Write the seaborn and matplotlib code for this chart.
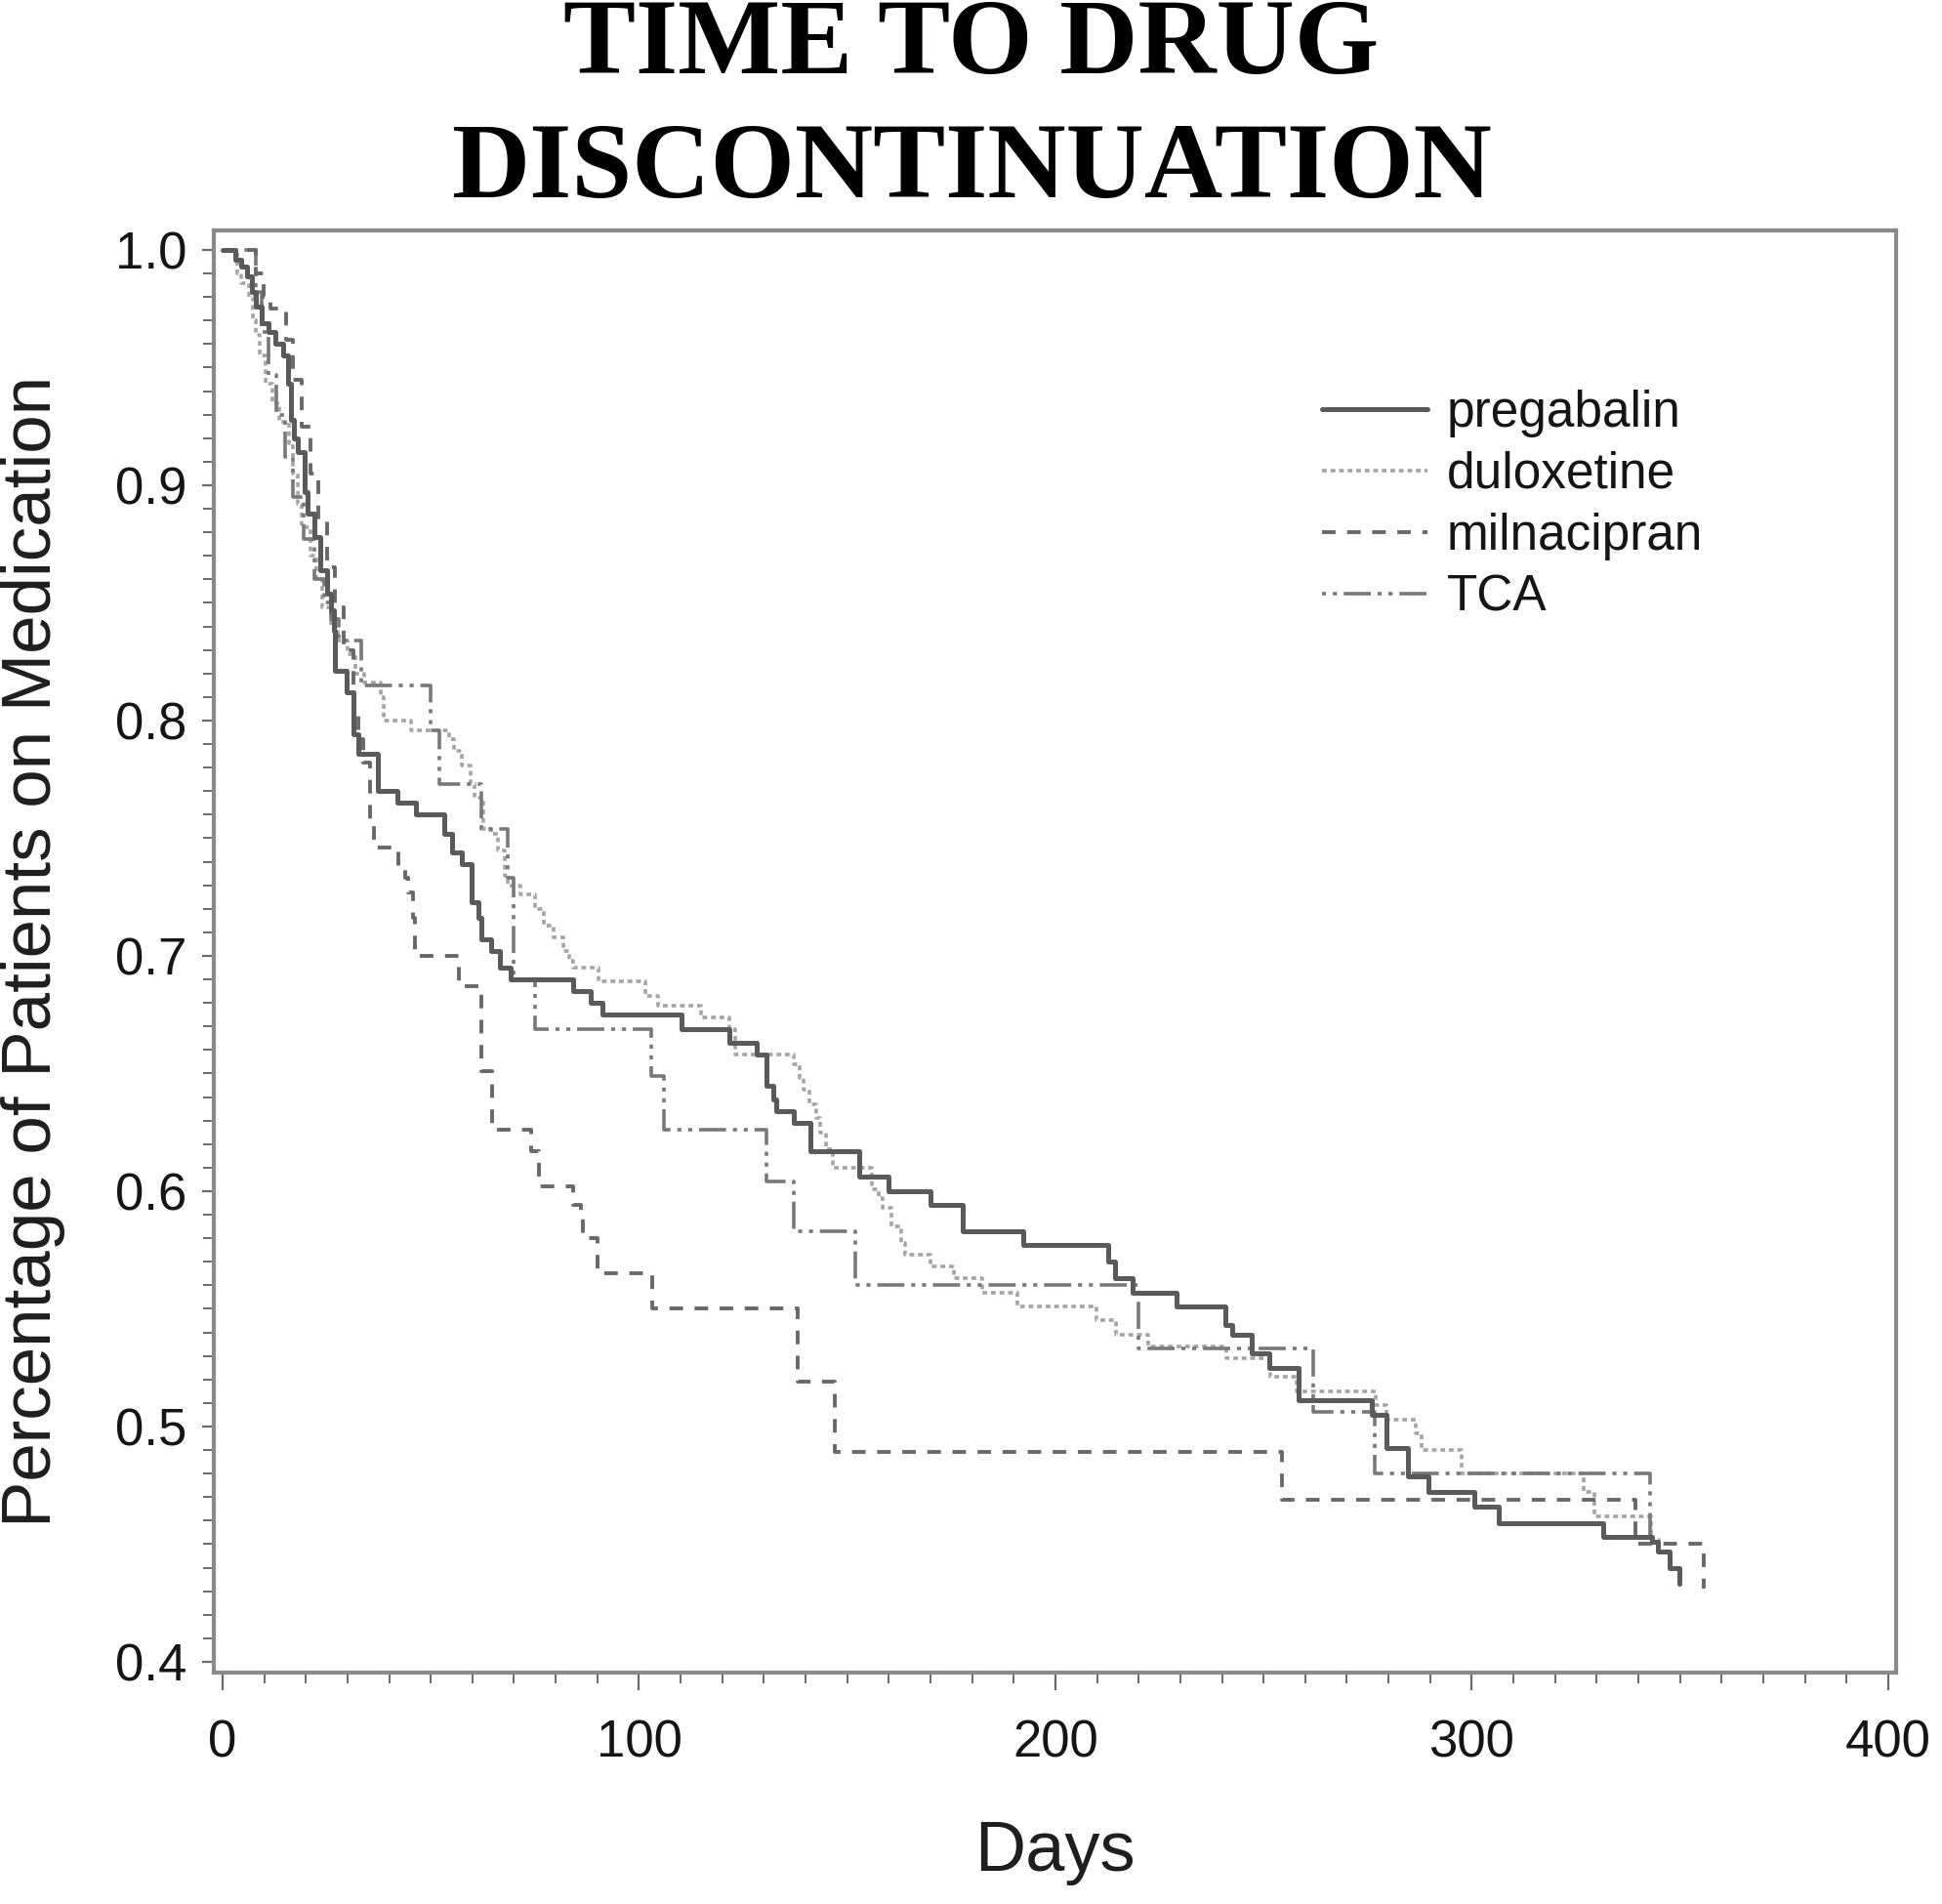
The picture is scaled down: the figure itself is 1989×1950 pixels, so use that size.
import numpy as np
import pandas as pd
import matplotlib
matplotlib.use("Agg")
import matplotlib.pyplot as plt
import seaborn as sns
from matplotlib.ticker import MultipleLocator, FormatStrFormatter

# ---------------- data (Kaplan-Meier style step values) ----------------
drug_names = ["pregabalin", "duloxetine", "milnacipran", "TCA"]

pregabalin_days = [0, 3.0, 4.5, 5.9, 7.0, 8.0, 9.4, 11.0, 12.7, 14.5, 15.7, 16.4, 17.2, 18.0, 19.7,
                   20.4, 22.0, 23.4, 25.0, 26.0, 26.7, 27.0, 29.8, 31.4, 32.6, 37.3, 42.0, 46.4,
                   53.3, 55.2, 57.5, 59.9, 61.4, 62.2, 64.6, 66.5, 69.2, 84.2, 88.4, 91.2, 110.2,
                   121.7, 128.3, 130.6, 132.2, 133.0, 137.2, 141.1, 152.9, 159.9, 170.0, 177.8,
                   192.3, 212.7, 214.3, 218.5, 229.0, 240.8, 242.4, 247.1, 251.3, 258.4, 276.0,
                   279.5, 284.6, 289.6, 300.6, 306.4, 331.5, 343.3, 344.7, 347.5, 349.8]
pregabalin_prop = [1.0, 0.996, 0.993, 0.989, 0.982, 0.976, 0.969, 0.965, 0.960, 0.955, 0.943, 0.928,
                   0.920, 0.914, 0.897, 0.888, 0.878, 0.864, 0.854, 0.847, 0.838, 0.821, 0.812, 0.794,
                   0.786, 0.770, 0.765, 0.760, 0.752, 0.744, 0.739, 0.723, 0.716, 0.707, 0.702, 0.695,
                   0.690, 0.685, 0.680, 0.675, 0.669, 0.663, 0.658, 0.645, 0.639, 0.634, 0.629, 0.617,
                   0.606, 0.600, 0.594, 0.583, 0.577, 0.570, 0.563, 0.557, 0.551, 0.543, 0.539, 0.531,
                   0.525, 0.511, 0.505, 0.491, 0.479, 0.472, 0.466, 0.459, 0.453, 0.451, 0.447, 0.440,
                   0.433]

duloxetine_days = [0, 3.5, 4.5, 6.3, 7.2, 8.0, 9.0, 10.3, 12.0, 13.5, 16.0, 17.0, 18.0, 19.0, 21.0,
                   22.5, 24.0, 26.0, 27.7, 30.0, 32.0, 34.0, 38.1, 38.7, 45.3, 54.4, 55.6, 57.5, 59.5,
                   60.5, 62.6, 64.5, 66.1, 67.7, 68.5, 71.5, 75.0, 77.1, 79.5, 81.8, 83.3, 84.2, 90.3,
                   101.5, 104.5, 115.0, 121.8, 123.0, 137.2, 138.5, 139.6, 141.0, 142.5, 143.6, 145.0,
                   146.5, 156.0, 157.5, 158.5, 160.7, 163.0, 164.0, 170.0, 175.6, 182.5, 190.9, 209.9,
                   214.5, 222.4, 241.0, 251.5, 258.0, 277.0, 279.5, 286.5, 288.0, 297.5, 326.8, 329.5,
                   343.0, 345.0]
duloxetine_prop = [1.0, 0.990, 0.986, 0.980, 0.970, 0.964, 0.955, 0.943, 0.935, 0.927, 0.918, 0.905,
                   0.892, 0.882, 0.870, 0.860, 0.848, 0.840, 0.834, 0.828, 0.820, 0.816, 0.810, 0.800,
                   0.796, 0.792, 0.787, 0.781, 0.773, 0.767, 0.754, 0.752, 0.745, 0.734, 0.730, 0.726,
                   0.720, 0.713, 0.708, 0.702, 0.698, 0.695, 0.689, 0.683, 0.679, 0.674, 0.669, 0.658,
                   0.654, 0.648, 0.643, 0.637, 0.631, 0.625, 0.618, 0.610, 0.601, 0.597, 0.593, 0.585,
                   0.578, 0.573, 0.568, 0.563, 0.557, 0.551, 0.545, 0.539, 0.534, 0.529, 0.521, 0.515,
                   0.509, 0.503, 0.497, 0.490, 0.480, 0.472, 0.462, 0.452, 0.445]

milnacipran_days = [0, 8.0, 9.9, 11.5, 15.2, 17.0, 19.0, 21.0, 23.0, 25.0, 27.0, 29.0, 31.4, 32.6,
                    33.8, 35.3, 36.4, 42.2, 43.8, 44.5, 45.7, 46.2, 56.8, 62.1, 64.7, 74.0, 76.0,
                    84.2, 86.0, 86.5, 90.0, 103.2, 138.0, 147.0, 254.5, 339.3, 355.7]
milnacipran_prop = [1.0, 0.990, 0.980, 0.975, 0.962, 0.945, 0.925, 0.905, 0.885, 0.865, 0.848, 0.830,
                    0.805, 0.792, 0.782, 0.758, 0.746, 0.738, 0.733, 0.727, 0.716, 0.700, 0.687, 0.651,
                    0.626, 0.617, 0.602, 0.594, 0.590, 0.580, 0.565, 0.550, 0.519, 0.489, 0.469, 0.450,
                    0.431]

tca_days = [0, 8.0, 9.5, 11.0, 13.0, 15.0, 17.0, 19.5, 22.0, 24.5, 26.0, 28.0, 33.3, 50.0, 52.0,
            62.1, 68.5, 70.0, 75.0, 103.0, 106.0, 130.6, 137.2, 152.0, 220.0, 261.9, 276.7, 342.8]
tca_prop = [1.0, 0.982, 0.965, 0.947, 0.930, 0.912, 0.895, 0.877, 0.860, 0.850, 0.843, 0.834, 0.815,
            0.796, 0.773, 0.754, 0.733, 0.690, 0.669, 0.649, 0.626, 0.604, 0.583, 0.560, 0.533,
            0.506, 0.480, 0.453]

x_ticks = [0, 100, 200, 300, 400]
y_ticks = [0.4, 0.5, 0.6, 0.7, 0.8, 0.9, 1.0]

title_lines = ["TIME TO DRUG", "DISCONTINUATION"]
x_label = "Days"
y_label = "Percentage of Patients on Medication"

# ---------------- styling ----------------
sns.set_style("ticks")
plt.rcParams["font.family"] = ["Liberation Sans", "DejaVu Sans"]
plt.rcParams["lines.scale_dashes"] = False

W, H = 1990, 1950
fig = plt.figure(figsize=(W / 100, H / 100), dpi=100)
ax_l, ax_r, ax_t, ax_b = 219, 1942, 236, 1713
ax = fig.add_axes([ax_l / W, 1 - ax_b / H, (ax_r - ax_l) / W, (ax_b - ax_t) / H])

series = {
    "pregabalin": (pregabalin_days, pregabalin_prop),
    "duloxetine": (duloxetine_days, duloxetine_prop),
    "milnacipran": (milnacipran_days, milnacipran_prop),
    "TCA": (tca_days, tca_prop),
}
styles = {
    "pregabalin": dict(color="#5a5a5a", linewidth=3.6, linestyle="-"),
    "duloxetine": dict(color="#a4a4a4", linewidth=2.6, linestyle=(0, (3.5, 2.8))),
    "milnacipran": dict(color="#686868", linewidth=2.8, linestyle=(0, (10, 8.5))),
    "TCA": dict(color="#787878", linewidth=2.6, linestyle=(0, (3, 5, 3, 5, 20, 5))),
}
draw_order = ["duloxetine", "TCA", "milnacipran", "pregabalin"]

handles = {}
for name in draw_order:
    d, p = series[name]
    df = pd.DataFrame({"Days": d, "Proportion": p})
    n_before = len(ax.lines)
    sns.lineplot(data=df, x="Days", y="Proportion", ax=ax, drawstyle="steps-post",
                 errorbar=None, sort=False, label=name, **styles[name])
    handles[name] = ax.lines[n_before]

ax.set_xlim(-2.1, 401.9)
ax.set_ylim(0.3954, 1.0083)
ax.xaxis.set_major_locator(MultipleLocator(100))
ax.xaxis.set_minor_locator(MultipleLocator(10))
ax.yaxis.set_major_locator(MultipleLocator(0.1))
ax.yaxis.set_minor_locator(MultipleLocator(0.01))
ax.set_xticks(x_ticks)
ax.set_yticks(y_ticks)
ax.yaxis.set_major_formatter(FormatStrFormatter("%.1f"))

for s in ax.spines.values():
    s.set_visible(True)
    s.set_color("#8a8a8a")
    s.set_linewidth(3.0)

ax.tick_params(axis="x", which="major", direction="out", length=13, width=1.6, color="#6a6a6a",
               pad=21, labelsize=38, labelcolor="#151515")
ax.tick_params(axis="x", which="minor", direction="out", length=8, width=1.4, color="#6a6a6a")
ax.tick_params(axis="y", which="major", direction="out", length=9, width=1.6, color="#6a6a6a",
               pad=11, labelsize=38, labelcolor="#151515")
ax.tick_params(axis="y", which="minor", direction="out", length=8, width=1.4, color="#6a6a6a")

ax.set_xlabel(x_label, fontsize=52, color="#1e1e1e")
ax.xaxis.label.set_verticalalignment("baseline")
ax.xaxis.set_label_coords(0.5, -(1916 - ax_b) / (ax_b - ax_t))
ax.set_ylabel(y_label, fontsize=51, color="#1e1e1e")
ax.yaxis.label.set_verticalalignment("center")
ax.yaxis.set_label_coords((34 - ax_l) / (ax_r - ax_l), 0.5)

leg = ax.legend([handles[n] for n in drug_names], drug_names, loc="upper left",
                bbox_to_anchor=((1354 - ax_l) / (ax_r - ax_l), (ax_b - 399) / (ax_b - ax_t)),
                frameon=False, fontsize=37, handlelength=2.1, handletextpad=0.39,
                labelspacing=0.27, borderpad=0, borderaxespad=0)
for t in leg.get_texts():
    t.set_color("#151515")

fig.text(0.5, 1 - 75 / H, title_lines[0], ha="center", va="baseline", color="black",
         fontsize=80, fontweight="bold", family=["Liberation Serif", "DejaVu Serif"])
fig.text(0.5, 1 - 202 / H, title_lines[1], ha="center", va="baseline", color="black",
         fontsize=80, fontweight="bold", family=["Liberation Serif", "DejaVu Serif"])

fig.savefig("out.png", dpi=100, facecolor="white")
